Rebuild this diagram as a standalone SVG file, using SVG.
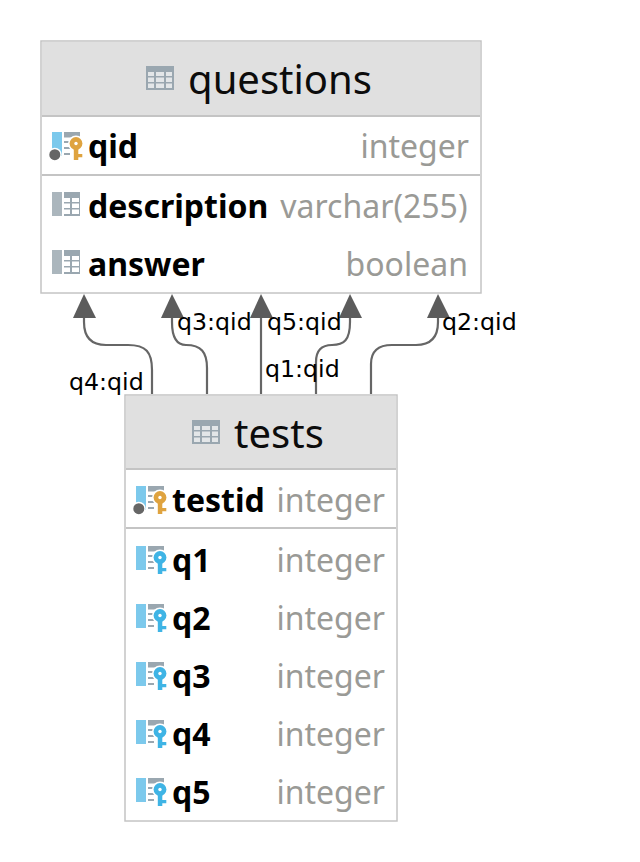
<svg xmlns="http://www.w3.org/2000/svg" xmlns:xlink="http://www.w3.org/1999/xlink" width="640" height="862" viewBox="0 0 640 862">
<style>
text{font-family:"Noto Sans","Open Sans",sans-serif}
.box{fill:#fff;stroke:#c4c4c4;stroke-width:1.5}
.head{fill:#e0e0e0}
.sep{stroke:#c4c4c4;stroke-width:2;fill:none}
.title{font-size:40px;fill:#0c0c0c;text-anchor:middle}
.name{font-size:32px;font-weight:700;fill:#000}
.type{font-size:32px;fill:#9a9a96;text-anchor:end}
.lbl{font-family:"DejaVu Sans",sans-serif;font-size:23.7px;fill:#000}
.edge{fill:none;stroke:#666;stroke-width:2.2}
.tip{fill:#5c5c5c}
</style>
<defs>
<g id="tbl"><rect width="28" height="24" fill="#9aa7b0"/><g fill="#e3e6e8"><rect x="2" y="6" width="6" height="4"/><rect x="10" y="6" width="8" height="4"/><rect x="20" y="6" width="6" height="4"/><rect x="2" y="11.500" width="6" height="4.500"/><rect x="10" y="11.500" width="8" height="4.500"/><rect x="20" y="11.500" width="6" height="4.500"/><rect x="2" y="17.500" width="6" height="4.500"/><rect x="10" y="17.500" width="8" height="4.500"/><rect x="20" y="17.500" width="6" height="4.500"/></g></g>
<g id="lines"><g fill="#9aa7b0"><rect x="12" y="0" width="16" height="5.500"/><rect x="12" y="9" width="6" height="2"/><rect x="12" y="15" width="6" height="2"/><rect x="12" y="21" width="6" height="2"/></g></g>
<g id="key"><circle cx="24" cy="11.500" r="6.400" fill="currentColor"/><circle cx="24" cy="11.500" r="1.700" fill="#fff"/><path d="M21.800 15h4.500v13h-4.500zM26 22h4.300v3.200h-4.300z" fill="currentColor"/></g>
<g id="pk"><rect x="0" y="0" width="10" height="24" fill="#7cc9ec"/><use xlink:href="#lines" href="#lines"/><circle cx="2.800" cy="22.700" r="7" fill="#fff"/><circle cx="2.800" cy="22.700" r="5.500" fill="#666"/><circle cx="24" cy="11.500" r="8" fill="#fff"/><use xlink:href="#key" href="#key" color="#dfa33f"/></g>
<g id="fk"><rect x="0" y="0" width="10" height="24" fill="#7cc9ec"/><use xlink:href="#lines" href="#lines"/><circle cx="24" cy="11.500" r="8" fill="#fff"/><use xlink:href="#key" href="#key" color="#3fb4e5"/></g>
<g id="col"><rect x="0" y="0" width="10" height="24" fill="#abb6bd"/><rect x="12" y="0" width="16" height="24" fill="#9aa7b0"/><g fill="#fff"><rect x="12" y="6" width="6" height="4"/><rect x="12" y="11.500" width="6" height="4.500"/><rect x="12" y="17.500" width="6" height="4.500"/><rect x="20" y="6" width="7" height="4"/><rect x="20" y="11.500" width="7" height="4.500"/><rect x="20" y="17.500" width="7" height="4.500"/></g></g>
</defs>
<g id="connectors">
<path class="edge" d="M152 394V370C152 352 146 345 128 345H106C92 345 84 338 84 322V316"/>
<path class="edge" d="M207 394V368C207 352 201 345 186 345C178 345 172 340 172 322V316"/>
<path class="edge" d="M261 394V316"/>
<path class="edge" d="M316 394V362C316 350 322 345 332 345C344 345 350 340 350 322V316"/>
<path class="edge" d="M371 394V364C371 351 378 345 392 345H416C430 345 438 338 438 322V316"/>
<path class="tip" d="M84 294L73 318H96Z"/>
<path class="tip" d="M172 294L161 318H184Z"/>
<path class="tip" d="M261 294L250 318H273Z"/>
<path class="tip" d="M350 294L339 318H362Z"/>
<path class="tip" d="M438 294L427 318H450Z"/>
<text class="lbl" x="69" y="390">q4:qid</text>
<text class="lbl" x="177" y="330">q3:qid</text>
<text class="lbl" x="267" y="330">q5:qid</text>
<text class="lbl" x="265" y="377">q1:qid</text>
<text class="lbl" x="442" y="330">q2:qid</text>
</g>
<g id="questions">
<rect class="box" x="41" y="41" width="440" height="252"/>
<rect class="head" x="42" y="42" width="438" height="73"/>
<path class="sep" d="M42 116H480M42 175H480"/>
<use xlink:href="#tbl" href="#tbl" x="146" y="66"/>
<text class="title" x="280" y="94">questions</text>
<use xlink:href="#pk" href="#pk" x="52" y="132"/>
<text class="name" x="88" y="158">qid</text>
<text class="type" x="469" y="158">integer</text>
<use xlink:href="#col" href="#col" x="52" y="192"/>
<text class="name" x="88" y="218">description</text>
<text class="type" x="467.500" y="218">varchar(255)</text>
<use xlink:href="#col" href="#col" x="52" y="250"/>
<text class="name" x="88" y="276">answer</text>
<text class="type" x="468" y="276">boolean</text>
</g>
<g id="tests">
<rect class="box" x="125" y="395" width="272" height="426"/>
<rect class="head" x="126" y="396" width="270" height="72"/>
<path class="sep" d="M126 469H396M126 528H396"/>
<use xlink:href="#tbl" href="#tbl" x="192" y="420"/>
<text class="title" x="279" y="448">tests</text>
<use xlink:href="#pk" href="#pk" x="136" y="486"/>
<text class="name" x="172" y="512">testid</text>
<text class="type" x="385" y="512">integer</text>
<use xlink:href="#fk" href="#fk" x="136" y="546"/>
<text class="name" x="172" y="572">q1</text>
<text class="type" x="385" y="572">integer</text>
<use xlink:href="#fk" href="#fk" x="136" y="604"/>
<text class="name" x="172" y="630">q2</text>
<text class="type" x="385" y="630">integer</text>
<use xlink:href="#fk" href="#fk" x="136" y="662"/>
<text class="name" x="172" y="688">q3</text>
<text class="type" x="385" y="688">integer</text>
<use xlink:href="#fk" href="#fk" x="136" y="720"/>
<text class="name" x="172" y="746">q4</text>
<text class="type" x="385" y="746">integer</text>
<use xlink:href="#fk" href="#fk" x="136" y="778"/>
<text class="name" x="172" y="804">q5</text>
<text class="type" x="385" y="804">integer</text>
</g>
</svg>
